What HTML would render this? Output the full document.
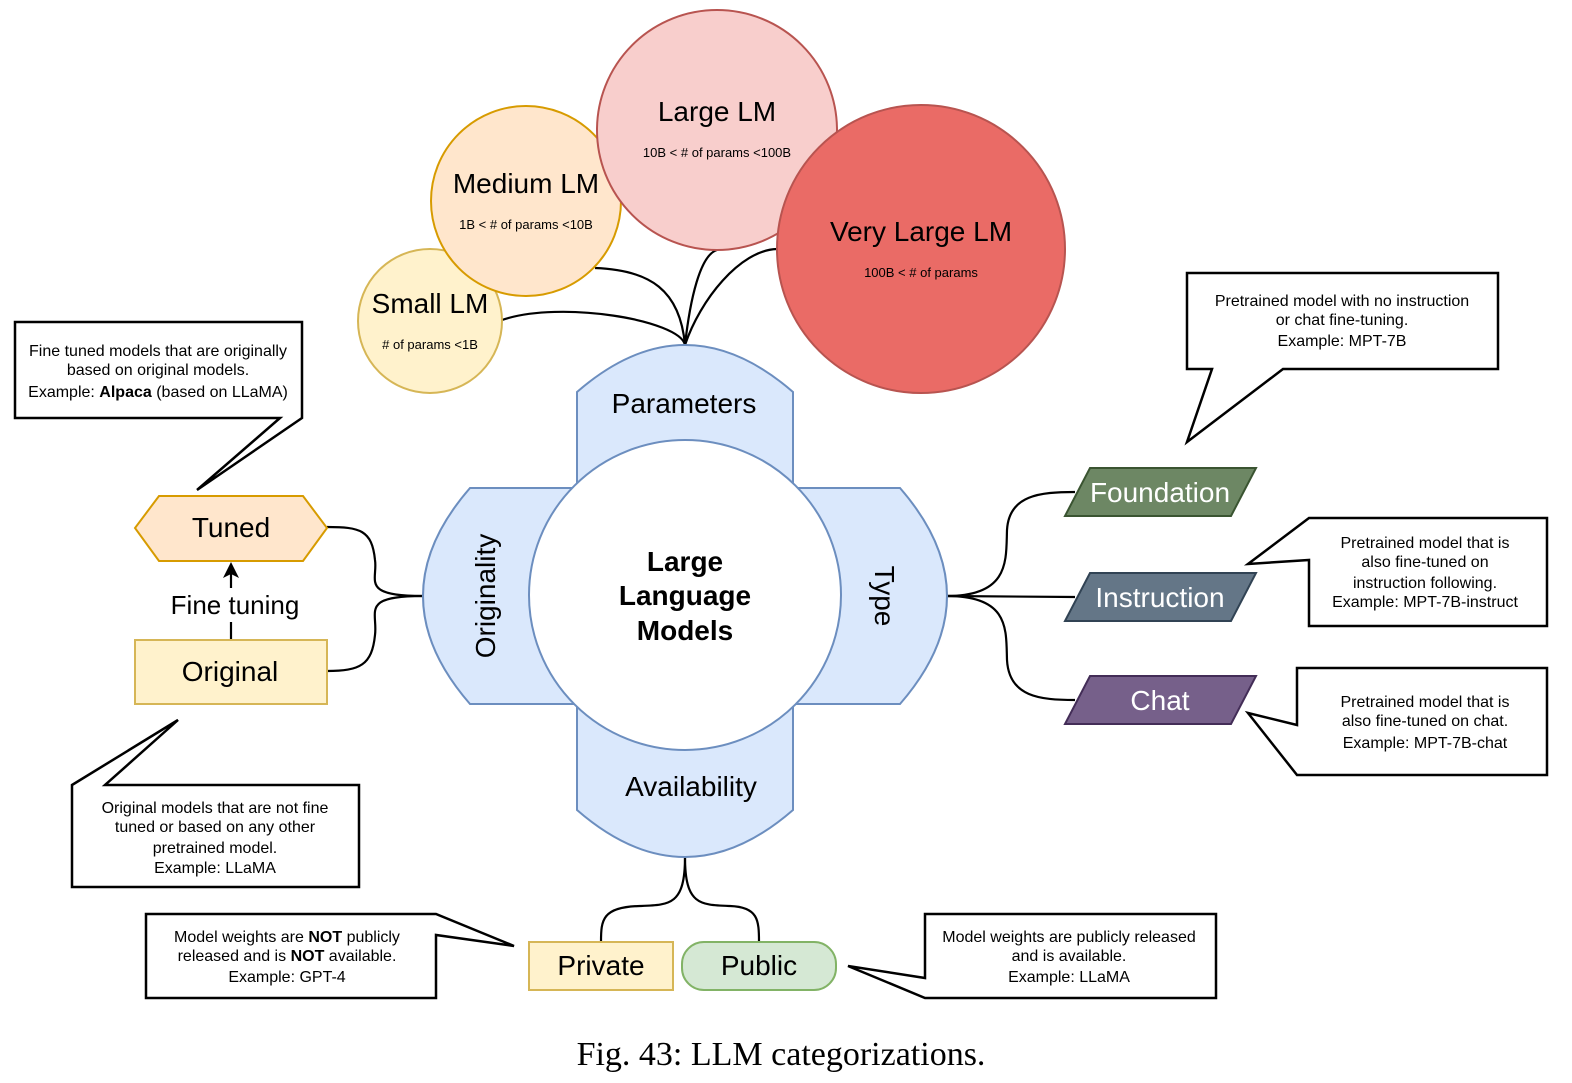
<!DOCTYPE html>
<html><head><meta charset="utf-8"><style>
html,body{margin:0;padding:0;background:#fff;}
svg{display:block;font-family:"Liberation Sans",Arial,sans-serif;}
</style></head><body>
<svg width="1572" height="1083" viewBox="0 0 1572 1083" xmlns="http://www.w3.org/2000/svg">
<defs><marker id="ar" markerWidth="16" markerHeight="16" refX="8" refY="8" orient="auto" markerUnits="userSpaceOnUse"><path d="M0,0 L16,8 L0,16 L4,8 Z" fill="#000"/></marker></defs>
<g fill="none" stroke="#000" stroke-width="2.2">
<path d="M685,345 C680,320 560,300 502,320"/>
<path d="M685,345 C680,290 650,270 595,268"/>
<path d="M685,345 C690,300 700,255 717,250"/>
<path d="M685,345 C700,300 740,250 777,249"/>
<path d="M422,596 C360,596 378,580 375,560 C372,530 360,527 327,527"/>
<path d="M422,596 C360,596 378,612 375,635 C372,665 360,671 327,671"/>
<path d="M947,596 C1010,596 1006,560 1007,530 C1009,495 1040,492 1075,492"/>
<path d="M947,596 L1075,597"/>
<path d="M947,596 C1010,596 1006,630 1007,660 C1009,697 1040,700 1075,700"/>
<path d="M685,857 C685,905 670,905 640,906 C602,907 601,920 601,942"/>
<path d="M685,857 C685,905 700,905 730,906 C758,907 759,920 759,942"/>
<path d="M231,639 L231,622"/>
<path d="M231,588 L231,570" marker-end="url(#ar)"/>
</g>
<circle cx="430" cy="321" r="72" fill="#fff2cc" stroke="#d6b656" stroke-width="2"/>
<circle cx="526" cy="201" r="95" fill="#ffe6cc" stroke="#d79b00" stroke-width="2"/>
<circle cx="717" cy="130" r="120" fill="#f8cecc" stroke="#b85450" stroke-width="2"/>
<circle cx="921" cy="249" r="144" fill="#ea6b66" stroke="#b85450" stroke-width="2"/>
<text x="430" y="313" font-size="28" text-anchor="middle">Small LM</text>
<text x="430" y="349" font-size="13" text-anchor="middle"># of params &lt;1B</text>
<text x="526" y="193" font-size="28" text-anchor="middle">Medium LM</text>
<text x="526" y="229" font-size="13" text-anchor="middle">1B &lt; # of params &lt;10B</text>
<text x="717" y="121" font-size="28" text-anchor="middle">Large LM</text>
<text x="717" y="157" font-size="13" text-anchor="middle">10B &lt; # of params &lt;100B</text>
<text x="921" y="241" font-size="28" text-anchor="middle">Very Large LM</text>
<text x="921" y="277" font-size="13" text-anchor="middle">100B &lt; # of params</text>
<g fill="#dae8fc" stroke="#6c8ebf" stroke-width="2">
<path d="M577,488 L577,392 Q685,298 793,392 L793,488 Z"/>
<path d="M793,488 L900,488 Q994,596 900,704 L793,704 Z"/>
<path d="M577,704 L577,810 Q685,904 793,810 L793,704 Z"/>
<path d="M577,488 L470,488 Q376,596 470,704 L577,704 Z"/>
</g>
<ellipse cx="685" cy="595" rx="156" ry="155" fill="#fff" stroke="#6c8ebf" stroke-width="2"/>
<text x="684" y="413" font-size="28" text-anchor="middle">Parameters</text>
<text x="691" y="796" font-size="28" text-anchor="middle">Availability</text>
<text transform="translate(495,596) rotate(-90)" font-size="28" text-anchor="middle">Originality</text>
<text transform="translate(875,596) rotate(90)" font-size="28" text-anchor="middle">Type</text>
<g font-size="28" font-weight="bold" text-anchor="middle">
<text x="685" y="571">Large</text><text x="685" y="605">Language</text><text x="685" y="640">Models</text></g>
<polygon points="159,496 303,496 327,528 303,561 159,561 135,528" fill="#ffe6cc" stroke="#d79b00" stroke-width="2"/>
<text x="231" y="537" font-size="28" text-anchor="middle">Tuned</text>
<rect x="135" y="640" width="192" height="64" fill="#fff2cc" stroke="#d6b656" stroke-width="2"/>
<text x="230" y="681" font-size="28" text-anchor="middle">Original</text>
<text x="235" y="614" font-size="26" text-anchor="middle">Fine tuning</text>
<polygon points="1090,468 1256,468 1231,516 1065,516" fill="#6d8764" stroke="#3a5431" stroke-width="2"/>
<text x="1160" y="502" font-size="28" fill="#fff" text-anchor="middle">Foundation</text>
<polygon points="1090,573 1256,573 1231,621 1065,621" fill="#647687" stroke="#314354" stroke-width="2"/>
<text x="1160" y="607" font-size="28" fill="#fff" text-anchor="middle">Instruction</text>
<polygon points="1090,676 1256,676 1231,724 1065,724" fill="#76608a" stroke="#432d57" stroke-width="2"/>
<text x="1160" y="710" font-size="28" fill="#fff" text-anchor="middle">Chat</text>
<rect x="529" y="942" width="144" height="48" fill="#fff2cc" stroke="#d6b656" stroke-width="2"/>
<text x="601" y="975" font-size="28" text-anchor="middle">Private</text>
<rect x="682" y="942" width="154" height="48" rx="22" fill="#d5e8d4" stroke="#82b366" stroke-width="2"/>
<text x="759" y="975" font-size="28" text-anchor="middle">Public</text>
<g fill="#fff" stroke="#000" stroke-width="2.5">
<polygon points="15,322 302,322 302,418 197,490 280,418 15,418"/>
<polygon points="72,785 178,720 105,785 359,785 359,887 72,887"/>
<polygon points="1187,273 1498,273 1498,369 1283,369 1187,442 1212,369 1187,369"/>
<polygon points="1309,518 1547,518 1547,626 1309,626 1309,560 1248,564"/>
<polygon points="1297,668 1547,668 1547,775 1297,775 1248,713 1297,725"/>
<polygon points="146,914 436,914 514,946 436,935 436,998 146,998"/>
<polygon points="925,914 1216,914 1216,998 925,998 848,966 925,978"/>
</g>
<g font-size="16" text-anchor="middle">
<text x="158" y="356">Fine tuned models that are originally</text>
<text x="158" y="375">based on original models.</text>
<text x="158" y="397">Example: <tspan font-weight="bold">Alpaca</tspan> (based on LLaMA)</text>
<text x="215" y="813">Original models that are not fine</text>
<text x="215" y="832">tuned or based on any other</text>
<text x="215" y="853">pretrained model.</text>
<text x="215" y="873">Example: LLaMA</text>
<text x="1342" y="306">Pretrained model with no instruction</text>
<text x="1342" y="325">or chat fine-tuning.</text>
<text x="1342" y="346">Example: MPT-7B</text>
<text x="1425" y="548">Pretrained model that is</text>
<text x="1425" y="567">also fine-tuned on</text>
<text x="1425" y="588">instruction following.</text>
<text x="1425" y="607">Example: MPT-7B-instruct</text>
<text x="1425" y="707">Pretrained model that is</text>
<text x="1425" y="726">also fine-tuned on chat.</text>
<text x="1425" y="748">Example: MPT-7B-chat</text>
<text x="287" y="942">Model weights are <tspan font-weight="bold">NOT</tspan> publicly</text>
<text x="287" y="961">released and is <tspan font-weight="bold">NOT</tspan> available.</text>
<text x="287" y="982">Example: GPT-4</text>
<text x="1069" y="942">Model weights are publicly released</text>
<text x="1069" y="961">and is available.</text>
<text x="1069" y="982">Example: LLaMA</text>
</g>
<text x="781" y="1065" font-size="34" font-family="Liberation Serif,serif" text-anchor="middle">Fig. 43: LLM categorizations.</text>
</svg>
</body></html>
